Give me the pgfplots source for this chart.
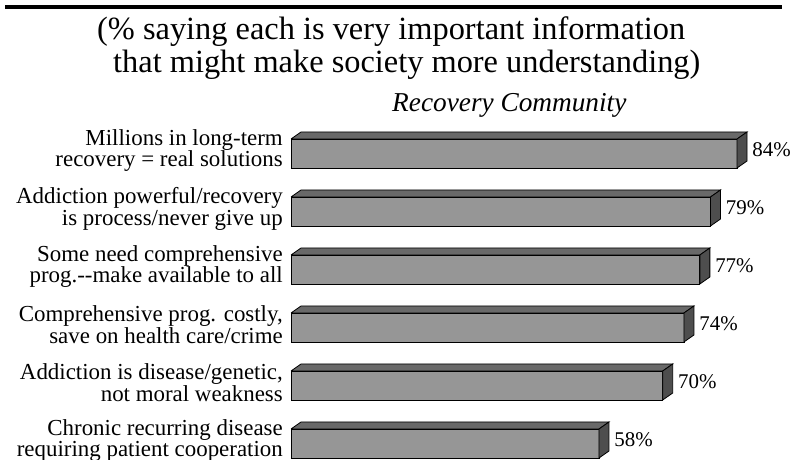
\documentclass[border=0pt]{standalone}
\usepackage{pgfplots}
\pgfplotsset{compat=1.18}
\usepackage{fontspec}
\setmainfont{Liberation Serif}
\definecolor{frontgray}{RGB}{150,150,150}
\definecolor{topgray}{RGB}{105,105,105}
\definecolor{sidegray}{RGB}{78,78,78}
% depth of the 3D effect in data units
\def\dX{1.883}
\def\dY{0.1207}
\newcommand{\faces}[2]{%
  \pgfmathsetmacro{\yb}{#1+0.25}%
  \pgfmathsetmacro{\yt}{#1+0.25+\dY}%
  \pgfmathsetmacro{\ylo}{#1-0.25+\dY}%
  \pgfmathsetmacro{\yf}{#1-0.25}%
  \pgfmathsetmacro{\xe}{#2+\dX}%
  \edef\tmp{\noexpand\addplot[fill=topgray,draw=black,line width=0.8bp] coordinates {(0,\yb) (\dX,\yt) (\xe,\yt) (#2,\yb) (0,\yb)};}\tmp
  \edef\tmp{\noexpand\addplot[fill=sidegray,draw=black,line width=0.8bp] coordinates {(#2,\yb) (\xe,\yt) (\xe,\ylo) (#2,\yf) (#2,\yb)};}\tmp
}
\begin{document}
\begin{tikzpicture}
\useasboundingbox (0,0) rectangle (791bp,460bp);
\draw[line width=4bp] (5bp,453bp) -- (782bp,453bp);
\node[anchor=base west, inner sep=0pt, font=\fontsize{32.5}{33}\selectfont] at (97bp,420bp) {(\% saying each is very important information};
\node[anchor=base west, inner sep=0pt, font=\fontsize{32.5}{33}\selectfont] at (113bp,387bp) {that might make society more understanding)};
\node[anchor=base west, inner sep=0pt, font=\fontsize{27.4}{28}\selectfont\itshape] at (392bp,348bp) {Recovery Community};
\begin{axis}[
  at={(291bp,-12.5bp)}, anchor=south west,
  x=5.31bp, y=58bp,
  xmin=0, xmax=95, ymin=-0.5, ymax=5.5,
  clip=false,
  axis line style={draw=none},
  major tick style={draw=none},
  xtick=\empty,
  ytick={0,1,2,3,4,5},
  yticklabels={{Chronic recurring disease\\requiring patient cooperation},
               {Addiction is disease/genetic,\\not moral weakness},
               {Comprehensive prog. costly,\\save on health care/crime},
               {Some need comprehensive\\prog.-{}-make available to all},
               {Addiction powerful/recovery\\is process/never give up},
               {Millions in long-term\\recovery = real solutions}},
  yticklabel style={align=right, inner sep=0pt, xshift=-8bp, yshift=3bp,
    font=\fontsize{23}{22}\selectfont},
]
\addplot[xbar, bar width=29bp, fill=frontgray, draw=black, line width=0.8bp,
  nodes near coords={\pgfmathprintnumber[assume math mode=true]{\pgfplotspointmeta}\%},
  point meta=x,
  every node near coord/.append style={anchor=west, inner sep=0pt, xshift=15bp, yshift=3.5bp,
    font=\fontsize{21}{22}\selectfont}]
  coordinates {(58,0) (70,1) (74,2) (77,3) (79,4) (84,5)};
\faces{0}{58}
\faces{1}{70}
\faces{2}{74}
\faces{3}{77}
\faces{4}{79}
\faces{5}{84}
\end{axis}
\end{tikzpicture}
\end{document}
